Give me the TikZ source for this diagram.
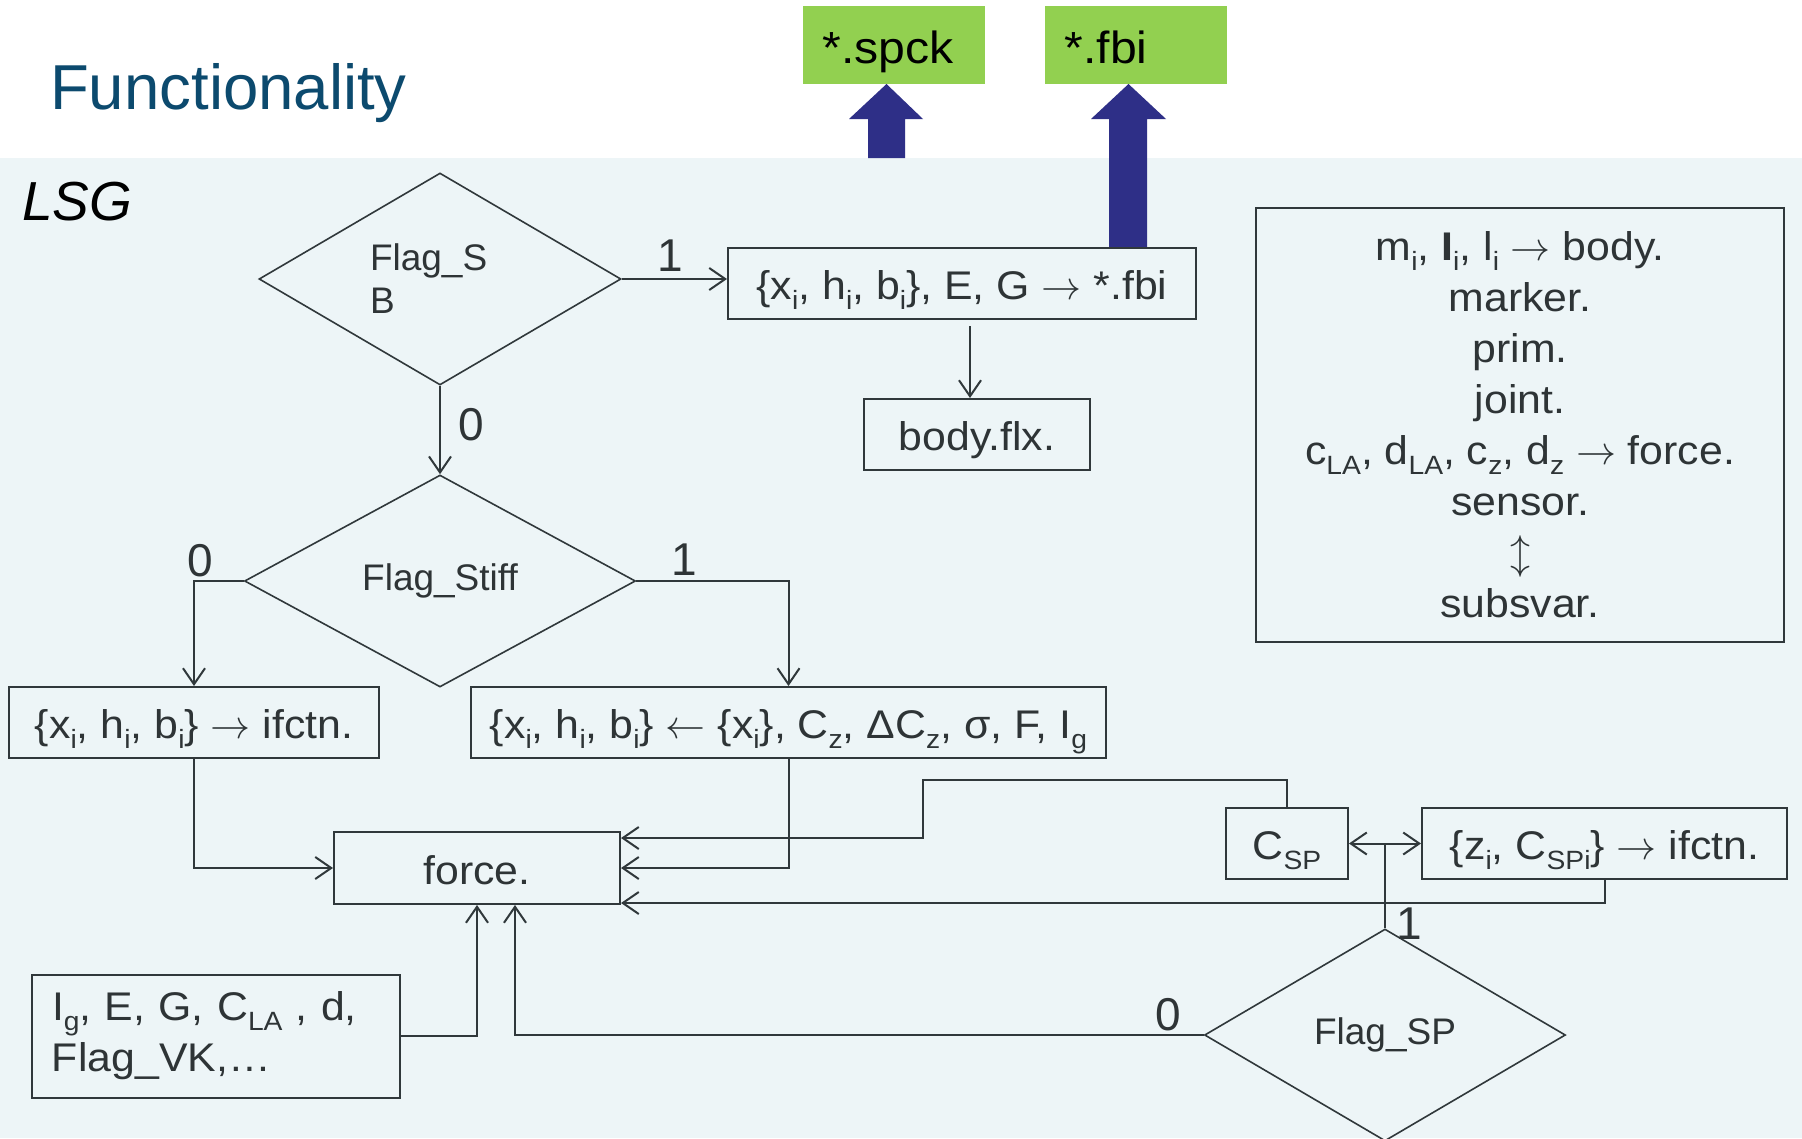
\documentclass[tikz,border=0pt]{standalone}
\usepackage{fontspec}
\setmainfont{Liberation Sans}[FakeStretch=1.07]
\newfontfamily\plainf{Liberation Sans}
\usetikzlibrary{shapes.geometric,arrows.meta,calc}
\definecolor{bandblue}{HTML}{EDF5F7}
\definecolor{lineclr}{HTML}{30383B}
\definecolor{txtclr}{HTML}{2E3436}
\definecolor{titleblue}{HTML}{0C4A6E}
\definecolor{sgreen}{HTML}{92D050}
\definecolor{arrowblue}{HTML}{2E2F87}
\newcommand\sbs[1]{\raisebox{-0.25em}{\scalebox{0.66}{#1}}}
\newcommand\mth[1]{\scalebox{4}{\fontsize{10}{12}\selectfont$#1$}}
\newcommand\ra{~\mth{\rightarrow}~}
\newcommand\la{~\mth{\leftarrow}~}
\newcommand\fsz{\fontsize{40}{51}\selectfont}
\newcommand\dsz{\plainf\fontsize{37}{43}\selectfont}
\newcommand\lsz{\plainf\fontsize{46}{50}\selectfont}
\tikzset{
  box/.style={draw=lineclr, line width=2pt, inner sep=0pt, text=txtclr, font=\fsz},
  onel/.style={text height=32pt, text depth=0pt},
  dec/.style={diamond, draw=lineclr, line width=1.6pt, inner sep=0pt, text=txtclr, font=\dsz},
  arr/.style={draw=lineclr, line width=2pt, -{Straight Barb[length=16pt,width=22pt]}},
  dblarr/.style={draw=lineclr, line width=2pt, {Straight Barb[length=16pt,width=22pt]}-{Straight Barb[length=16pt,width=22pt]}},
  ln/.style={draw=lineclr, line width=2pt},
  lbl/.style={text=txtclr, font=\lsz, inner sep=0pt},
  greenbox/.style={fill=sgreen, minimum width=182pt, minimum height=78pt, inner xsep=20pt,
    inner ysep=0pt, text width=142pt, align=left, text height=36pt, text depth=0pt,
    font=\fontsize{45}{50}\selectfont, text=black},
}
\begin{document}
\begin{tikzpicture}[x=1pt,y=-1pt]
\useasboundingbox (0,0) rectangle (1802,1138);
\fill[white] (0,0) rectangle (1802,1138);
\fill[bandblue] (0,158) rectangle (1802,1138);

% titles
\node[anchor=base west, inner sep=0pt, text=titleblue, font=\plainf\fontsize{63.5}{70}\selectfont] (title) at (50,109) {Functionality};
\node[anchor=base west, inner sep=0pt, text=black, font=\plainf\itshape\fontsize{55}{60}\selectfont] (lsg) at (22,220) {LSG};

% output files
\node[greenbox] (spck) at (893.5,45) {*.spck};
\node[greenbox] (fbi) at (1135.5,45) {*.fbi};

% block arrows
\fill[arrowblue] (886.5,84) -- (923,119) -- (905,119) -- (905,158) -- (868,158) -- (868,119) -- (849,119) -- cycle;
\fill[arrowblue] (1128.5,84) -- (1166,119) -- (1147,119) -- (1147,248) -- (1109,248) -- (1109,119) -- (1091,119) -- cycle;

% decisions
\node[dec, minimum width=362pt, minimum height=212pt, align=left, text width=140pt] (sb) at (440,279) {Flag\_S\\B};
\node[dec, minimum width=391pt, minimum height=212pt] (stiff) at (440,581) {Flag\_Stiff};
\node[dec, minimum width=361pt, minimum height=212pt] (sp) at (1385,1035) {Flag\_SP};

% boxes
\node[box, onel, minimum width=468pt, minimum height=71pt] (fbibox) at (962,283.5)
  {\{x\sbs{i}, h\sbs{i}, b\sbs{i}\}, E, G\ra*.fbi};
\node[box, onel, minimum width=226pt, minimum height=71pt] (bodyflx) at (977,434.5) {body.flx.};
\node[box, onel, minimum width=370pt, minimum height=71pt] (ifctn) at (194,722.5)
  {\{x\sbs{i}, h\sbs{i}, b\sbs{i}\}\ra ifctn.};
\node[box, onel, minimum width=635pt, minimum height=71pt] (stiffbox) at (788.5,722.5)
  {\{x\sbs{i}, h\sbs{i}, b\sbs{i}\}\la\{x\sbs{i}\}, C\sbs{z}, ΔC\sbs{z}, σ, F, I\sbs{g}};
\node[box, onel, minimum width=286pt, minimum height=72pt] (force) at (477,868) {force.};
\node[box, onel, minimum width=122pt, minimum height=71pt] (csp) at (1287,843.5) {C\sbs{SP}};
\node[box, onel, minimum width=365pt, minimum height=71pt] (zbox) at (1604.5,843.5)
  {\{z\sbs{i}, C\sbs{SPi}\}\ra ifctn.};
\node[box, minimum width=368pt, minimum height=123pt, inner xsep=20pt, text width=328pt, align=left] (params) at (216,1036)
  {I\sbs{g}, E, G, C\sbs{LA} , d,\\Flag\_VK,…};
\node[box, minimum width=528pt, minimum height=434pt, align=center] (info) at (1520,425)
  {m\sbs{i}, \textbf{I}\sbs{i}, l\sbs{i}\ra body.\\marker.\\prim.\\joint.\\
   c\sbs{LA}, d\sbs{LA}, c\sbs{z}, d\sbs{z}\ra force.\\sensor.\\\mth{\updownarrow}\\subsvar.};

% labels
\node[lbl] (l1) at (670,256) {1};
\node[lbl] (l2) at (471,425) {0};
\node[lbl] (l3) at (200,561) {0};
\node[lbl] (l4) at (684,560) {1};
\node[lbl] (l5) at (1409,924) {1};
\node[lbl] (l6) at (1168,1015) {0};

% connectors
\draw[arr] (sb.east) -- (sb.east -| fbibox.west);
\draw[arr] (sb.south) -- (stiff.north);
\draw[arr] (stiff.west) -| (ifctn.north);
\draw[arr] (stiff.east) -| (stiffbox.north);
\draw[arr] ($(fbibox.south)+(8,6)$) -- ($(bodyflx.north)+(-7,0)$);
\draw[arr] (ifctn.south) |- (force.west);
\draw[arr] (stiffbox.south) |- (force.east);
\draw[arr] (csp.north) |- (923,780) |- ($(force.east)+(0,-30)$);
\draw[arr] (zbox.south) |- ($(force.east)+(0,35)$);
\draw[dblarr] (csp.east) -- (zbox.west);
\draw[ln] (sp.north) -- (sp.north |- csp.east);
\draw[arr] (sp.west) -| ($(force.south)+(38,0)$);
\draw[arr] (params.east) -| (force.south);
\end{tikzpicture}
\end{document}
